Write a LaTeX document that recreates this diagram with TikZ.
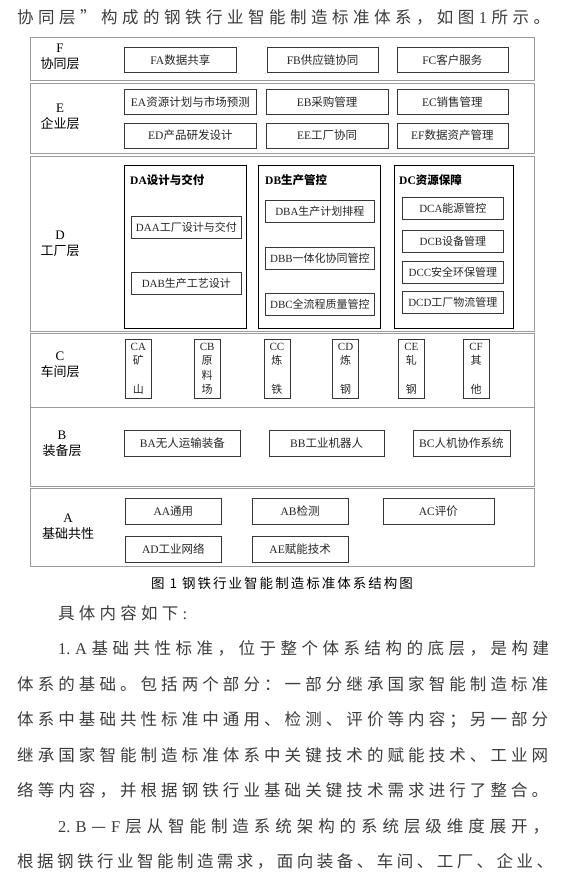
\documentclass[tikz,border=0pt]{standalone}
\usepackage{fontspec}
\setmainfont{Liberation Serif}
\newfontfamily\zh{Noto Sans CJK SC}
\definecolor{laygray}{RGB}{155,155,155}
\definecolor{boxink}{RGB}{55,55,55}
\definecolor{bodyink}{RGB}{60,60,60}
\usetikzlibrary{positioning}

\newcommand{\cellfont}{\fontsize{11.5}{13}\selectfont}
\newcommand{\tierfont}{\fontsize{13}{16}\selectfont}
\newcommand{\bodyfont}{\fontsize{16.5}{20}\selectfont\zh}

% spread the characters of one printed line over a given width
\makeatletter
\newcommand{\spreadline}[2]{\hbox to #1{\@tfor\sp@item:=#2\do{\sp@item\hfil}\unskip}}
\makeatother

\tikzstyle{tier} = [
    rectangle,
    draw=laygray,
    line width=1pt,
    minimum width=504pt,
    inner sep=0pt,
    anchor=north west
]
\tikzstyle{tiername} = [
    align=center,
    inner sep=0pt,
    font=\tierfont
]
\tikzstyle{cell} = [
    rectangle,
    draw=boxink,
    line width=0.75pt,
    minimum height=25pt,
    inner sep=0pt,
    text=black!85,
    font=\cellfont
]
\tikzstyle{subcell} = [
    cell,
    minimum height=22pt,
    anchor=north west,
    font=\fontsize{11}{13}\selectfont
]
\tikzstyle{unitbox} = [
    rectangle,
    draw=black,
    line width=1pt,
    minimum width=122pt,
    minimum height=163pt,
    inner sep=0pt,
    anchor=north west
]
\tikzstyle{unittitle} = [
    anchor=west,
    inner sep=0pt,
    font=\cellfont\bfseries
]
\tikzstyle{shop} = [
    cell,
    minimum width=26pt,
    minimum height=59pt,
    align=center,
    font=\fontsize{11}{14.5}\selectfont\zh
]
\tikzstyle{bodyline} = [
    anchor=west,
    inner sep=0pt,
    text=bodyink,
    font=\bodyfont
]

\begin{document}
\begin{tikzpicture}[x=1pt, y=-1pt]
    \useasboundingbox (0,0) rectangle (562,881);

    % Layers
    \node[tier, minimum height=43pt] (lf) at (30,37) {};
    \node[tier, minimum height=70pt] (le) at (30,82.5) {};
    \node[tier, minimum height=175pt] (ld) at (30,155.5) {};
    \node[tier, minimum height=73.5pt] (lc) at (30,333) {};
    \node[tier, minimum height=79.5pt] (lb) at (30,406.5) {};
    \node[tier, minimum height=78pt] (la) at (30,488) {};

    \node[tiername] (nf) at (60,57) {F\\\zh 协同层};
    \node[tiername] (ne) at (60,116.5) {E\\\zh 企业层};
    \node[tiername] (nd) at (60,243.5) {D\\\zh 工厂层};
    \node[tiername] (nc) at (60,365) {C\\\zh 车间层};
    \node[tiername] (nb) at (62,443.5) {B\\\zh 装备层};
    \node[tiername] (na) at (68,527) {A\\\zh 基础共性};

    % F
    \node[cell, minimum width=112pt, anchor=north west] (fa) at (124,47) {FA\zh 数据共享};
    \node[cell, minimum width=111pt, right=30pt of fa] (fb) {FB\zh 供应链协同};
    \node[cell, minimum width=111pt, right=18pt of fb] (fc) {FC\zh 客户服务};

    % E
    \node[cell, minimum width=132pt, anchor=north west] (ea) at (124,89) {EA\zh 资源计划与市场预测};
    \node[cell, minimum width=122pt, right=9pt of ea] (eb) {EB\zh 采购管理};
    \node[cell, minimum width=111pt, right=8pt of eb] (ec) {EC\zh 销售管理};
    \node[cell, minimum width=132pt, below=8pt of ea] (ed) {ED\zh 产品研发设计};
    \node[cell, minimum width=122pt, below=8pt of eb] (ee) {EE\zh 工厂协同};
    \node[cell, minimum width=111pt, below=8pt of ec] (ef) {EF\zh 数据资产管理};

    % D
    \node[unitbox] (da) at (124,165) {};
    \node[unitbox, right=11pt of da] (db) {};
    \node[unitbox, minimum width=119pt, right=13pt of db] (dc) {};
    \node[unittitle] (dat) at (130,180) {DA\zh 设计与交付};
    \node[unittitle] (dbt) at (265,180) {DB\zh 生产管控};
    \node[unittitle] (dct) at (399,180) {DC\zh 资源保障};

    \node[subcell, minimum width=110pt] (daa) at (131,216) {DAA\zh 工厂设计与交付};
    \node[subcell, minimum width=110pt, below=33pt of daa] (dab) {DAB\zh 生产工艺设计};
    \node[subcell, minimum width=109pt] (dba) at (265,200) {DBA\zh 生产计划排程};
    \node[subcell, minimum width=109pt, below=24pt of dba] (dbb) {DBB\zh 一体化协同管控};
    \node[subcell, minimum width=109pt, below=23pt of dbb] (dbc) {DBC\zh 全流程质量管控};
    \node[subcell, minimum width=101pt] (dca) at (402,197) {DCA\zh 能源管控};
    \node[subcell, minimum width=101pt, below=10pt of dca] (dcb) {DCB\zh 设备管理};
    \node[subcell, minimum width=101pt, below=8pt of dcb] (dcc) {DCC\zh 安全环保管理};
    \node[subcell, minimum width=101pt, below=8pt of dcc] (dcd) {DCD\zh 工厂物流管理};

    % C
    \node[shop, anchor=north west] (ca) at (125,339) {{\rmfamily CA}\\矿\\[14.5pt]山};
    \node[shop, right=42pt of ca] (cb) {{\rmfamily CB}\\原\\料\\场};
    \node[shop, right=43pt of cb] (cc) {{\rmfamily CC}\\炼\\[14.5pt]铁};
    \node[shop, right=42pt of cc] (cd) {{\rmfamily CD}\\炼\\[14.5pt]钢};
    \node[shop, right=39pt of cd] (ce) {{\rmfamily CE}\\轧\\[14.5pt]钢};
    \node[shop, right=38pt of ce] (cf) {{\rmfamily CF}\\其\\[14.5pt]他};

    % B
    \node[cell, minimum width=116pt, minimum height=26pt, anchor=north west] (ba) at (124,430) {BA\zh 无人运输装备};
    \node[cell, minimum width=115pt, minimum height=26pt, right=28pt of ba] (bb) {BB\zh 工业机器人};
    \node[cell, minimum width=97pt, minimum height=26pt, right=28pt of bb] (bc) {BC\zh 人机协作系统};

    % A
    \node[cell, minimum width=96pt, minimum height=26pt, anchor=north west] (aa) at (125,498) {AA\zh 通用};
    \node[cell, minimum width=96pt, minimum height=26pt, right=30pt of aa] (ab) {AB\zh 检测};
    \node[cell, minimum width=111pt, minimum height=26pt, right=34pt of ab] (ac) {AC\zh 评价};
    \node[cell, minimum width=96pt, minimum height=26pt, below=11pt of aa] (ad) {AD\zh 工业网络};
    \node[cell, minimum width=96pt, minimum height=26pt, below=11pt of ab] (ae) {AE\zh 赋能技术};

    % Caption
    \node[inner sep=0pt, font=\fontsize{13.5}{16}\selectfont\zh] (cap) at (282,583) {\spreadline{262pt}{图{\ 1\ }钢铁行业智能制造标准体系结构图}};

    % Running text
    \node[bodyline] (t0) at (17,17) {\spreadline{533pt}{协同层”构成的钢铁行业智能制造标准体系，如图{{\rmfamily 1}}所示。}};
    \node[bodyline] (t1) at (58,613) {\spreadline{129pt}{具体内容如下{{\rmfamily :}}}};
    \node[bodyline] (t2) at (58,648.5) {\spreadline{491pt}{{{\rmfamily 1.}}{{\rmfamily A}}基础共性标准，位于整个体系结构的底层，是构建}};
    \node[bodyline] (t3) at (17,684) {\spreadline{531pt}{体系的基础。包括两个部分：一部分继承国家智能制造标准}};
    \node[bodyline] (t4) at (17,719.5) {\spreadline{531pt}{体系中基础共性标准中通用、检测、评价等内容；另一部分}};
    \node[bodyline] (t5) at (17,755) {\spreadline{531pt}{继承国家智能制造标准体系中关键技术的赋能技术、工业网}};
    \node[bodyline] (t6) at (17,790.5) {\spreadline{531pt}{络等内容，并根据钢铁行业基础关键技术需求进行了整合。}};
    \node[bodyline] (t7) at (58,826) {\spreadline{491pt}{{{\rmfamily 2.}}{{\rmfamily B}}—{{\rmfamily F}}层从智能制造系统架构的系统层级维度展开，}};
    \node[bodyline] (t8) at (17,861.5) {\spreadline{536pt}{根据钢铁行业智能制造需求，面向装备、车间、工厂、企业、}};
\end{tikzpicture}
\end{document}
